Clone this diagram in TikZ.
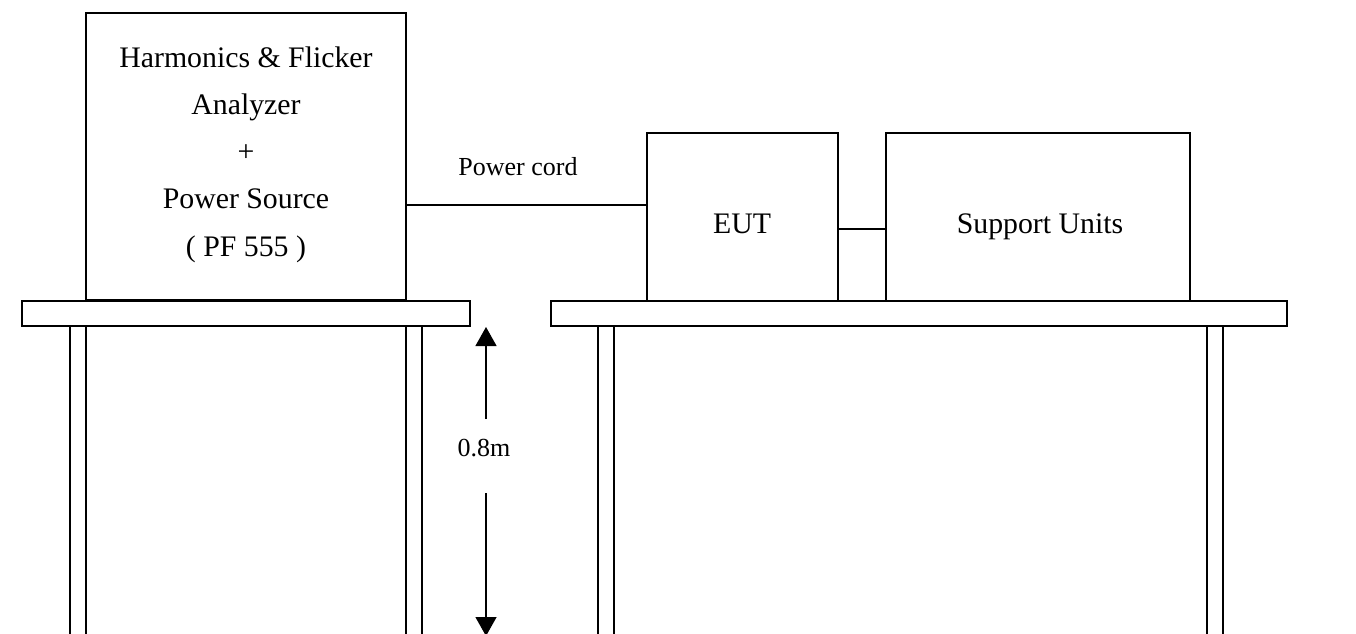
\documentclass[tikz,border=0pt]{standalone}
\usepackage{fontspec}
\setmainfont{Liberation Serif}
\usetikzlibrary{arrows.meta}
\begin{document}
\begin{tikzpicture}[x=1pt,y=-1pt,line width=1.3pt,
  box/.style={draw,inner sep=0pt,outer sep=0pt,anchor=north west},
  bigtxt/.style={font=\fontsize{29.8}{47.25}\selectfont,align=center,inner sep=0pt},
  smalltxt/.style={font=\fontsize{26}{30}\selectfont,inner sep=0pt},
  dimarrow/.style={-{Triangle[length=19pt,width=21pt]}}]
\useasboundingbox (0,0) rectangle (1356,633);
% tables
\node[box,minimum width=448pt,minimum height=25pt] (tl) at (22,301) {};
\node[box,minimum width=736pt,minimum height=25pt] (tr) at (551,301) {};
% legs
\foreach \x in {70,86,406,422,598,614,1207,1223}
  \draw (\x,326) -- (\x,640);
% equipment
\node[box,minimum width=320pt,minimum height=287pt] (an) at (86,13) {};
\node[box,minimum width=191pt,minimum height=168pt] (eut) at (647,133) {};
\node[box,minimum width=304pt,minimum height=168pt] (su) at (886,133) {};
% texts
\node[bigtxt,anchor=base] (antxt) at (246,256) {Harmonics \& Flicker\\Analyzer\\+\\Power Source\\( PF 555 )};
\node[bigtxt,anchor=base] (euttxt) at (742,233) {EUT};
\node[bigtxt,anchor=base] (sutxt) at (1040,233) {Support Units};
\node[smalltxt,anchor=base] (pctxt) at (518,175) {Power cord};
\node[smalltxt] (dimtxt) at (484,448) {0.8m};
% connectors
\coordinate (pcy) at (0,205);
\coordinate (euy) at (0,229);
\draw (an.east |- pcy) -- (eut.west |- pcy);
\draw (eut.east |- euy) -- (su.west |- euy);
% height arrow
\coordinate (atop) at (486,327);
\coordinate (abot) at (486,636);
\draw[dimarrow] (atop |- 0,419) -- (atop);
\draw[dimarrow] (abot |- 0,493) -- (abot);
\end{tikzpicture}
\end{document}
